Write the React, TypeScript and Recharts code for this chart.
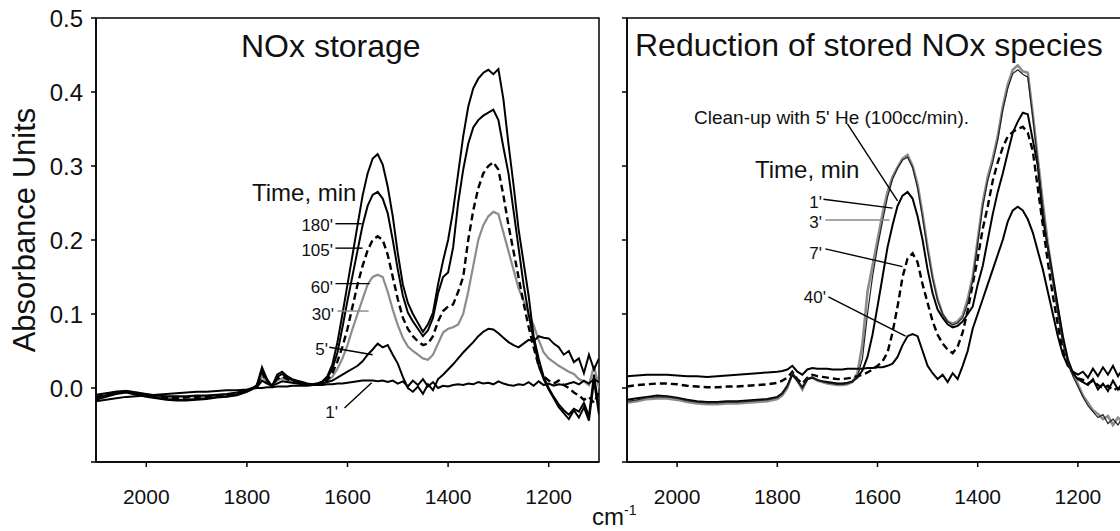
import React from 'react';
import { LineChart, Line, XAxis, YAxis, ReferenceArea, ReferenceLine } from 'recharts';

const FONT = '"Liberation Sans", Arial, sans-serif';

// wavenumber grid, cm-1 (coarse over the flat part, finer where the bands are)
const wavenumbers = [
  2100, 2080, 2060, 2040, 2020, 2000, 1980, 1960, 1940, 1920, 1900, 1880, 1860, 1840, 1820, 1800,
  1790, 1780, 1770, 1760, 1750, 1740, 1730, 1720, 1710, 1700,
  1690, 1680, 1670, 1660, 1650, 1640, 1630, 1620, 1610, 1600,
  1590, 1580, 1570, 1560, 1550, 1540, 1530, 1520, 1510, 1500,
  1490, 1480, 1470, 1460, 1450, 1440, 1430, 1420, 1410, 1400,
  1390, 1380, 1370, 1360, 1350, 1340, 1330, 1320, 1310, 1300,
  1290, 1280, 1270, 1260, 1250, 1240, 1230, 1220, 1210, 1200,
  1190, 1180, 1170, 1160, 1150, 1140, 1130, 1120, 1110, 1100,
];

// NOx storage, absorbance after t minutes
const stor180 = [
  -0.016, -0.012, -0.008, -0.006, -0.009, -0.012, -0.014, -0.016, -0.017, -0.017, -0.016, -0.015, -0.013, -0.012, -0.01, -0.005,
  -0.002, 0.004, 0.028, 0.012, 0.002, 0.018, 0.022, 0.016, 0.012, 0.01,
  0.008, 0.006, 0.005, 0.006, 0.009, 0.016, 0.032, 0.062, 0.1, 0.14,
  0.18, 0.22, 0.26, 0.29, 0.31, 0.316, 0.302, 0.272, 0.232, 0.182,
  0.14, 0.115, 0.1, 0.088, 0.076, 0.086, 0.102, 0.14, 0.172, 0.2,
  0.24, 0.29, 0.34, 0.38, 0.405, 0.418, 0.426, 0.43, 0.424, 0.431,
  0.39, 0.33, 0.275, 0.215, 0.17, 0.125, 0.07, 0.04, 0.015, 0.0,
  -0.012, -0.022, -0.03, -0.036, -0.028, -0.032, -0.02, -0.038, 0.018, -0.03,
];
const stor105 = [
  -0.014, -0.01, -0.007, -0.005, -0.008, -0.011, -0.013, -0.015, -0.016, -0.016, -0.015, -0.014, -0.012, -0.011, -0.009, -0.004,
  -0.001, 0.004, 0.024, 0.01, 0.003, 0.015, 0.019, 0.014, 0.011, 0.009,
  0.007, 0.005, 0.005, 0.006, 0.008, 0.014, 0.026, 0.048, 0.082, 0.118,
  0.152, 0.186, 0.22, 0.246, 0.261, 0.265, 0.256, 0.236, 0.2, 0.16,
  0.125, 0.102, 0.09, 0.08, 0.07, 0.078, 0.095, 0.128, 0.15, 0.156,
  0.19, 0.25, 0.295, 0.33, 0.352, 0.362, 0.368, 0.372, 0.376, 0.362,
  0.325, 0.29, 0.24, 0.19, 0.14, 0.1, 0.065, 0.03, 0.012, -0.002,
  -0.014, -0.026, -0.034, -0.042, -0.03, -0.04, -0.026, -0.044, 0.01, -0.036,
];
const stor60 = [
  -0.012, -0.009, -0.006, -0.005, -0.007, -0.01, -0.012, -0.013, -0.014, -0.013, -0.012, -0.012, -0.011, -0.01, -0.008, -0.004,
  -0.001, 0.003, 0.02, 0.009, 0.003, 0.012, 0.016, 0.012, 0.01, 0.008,
  0.006, 0.005, 0.004, 0.005, 0.007, 0.011, 0.02, 0.036, 0.056, 0.08,
  0.11, 0.14, 0.165, 0.186, 0.2, 0.205, 0.2, 0.18, 0.15, 0.12,
  0.095, 0.08, 0.07, 0.063, 0.058, 0.06, 0.07, 0.09, 0.104, 0.11,
  0.113, 0.13, 0.15, 0.2, 0.24, 0.27, 0.29, 0.3, 0.305, 0.295,
  0.26, 0.22, 0.185, 0.15, 0.115, 0.083, 0.055, 0.03, 0.016, 0.01,
  0.006, 0.01, 0.004, 0.0, -0.006, -0.01, -0.016, -0.012, -0.02, -0.006,
];
const stor30 = [
  -0.011, -0.008, -0.005, -0.004, -0.006, -0.009, -0.011, -0.012, -0.012, -0.012, -0.011, -0.011, -0.01, -0.009, -0.007, -0.003,
  0.0, 0.002, 0.016, 0.008, 0.003, 0.01, 0.013, 0.011, 0.009, 0.007,
  0.006, 0.004, 0.004, 0.005, 0.006, 0.009, 0.015, 0.026, 0.04, 0.058,
  0.08, 0.1, 0.12, 0.14, 0.15, 0.153, 0.15, 0.13, 0.106, 0.085,
  0.068, 0.056, 0.05, 0.045, 0.04, 0.038, 0.045, 0.06, 0.075, 0.08,
  0.082, 0.086, 0.1, 0.13, 0.165, 0.2, 0.22, 0.232, 0.238, 0.235,
  0.21, 0.185, 0.16, 0.135, 0.118, 0.1, 0.085, 0.065, 0.048, 0.04,
  0.035, 0.03, 0.026, 0.022, 0.019, 0.012, 0.009, 0.004, 0.03, 0.0,
];
const stor5 = [
  -0.009, -0.007, -0.005, -0.004, -0.006, -0.008, -0.01, -0.011, -0.011, -0.011, -0.01, -0.01, -0.009, -0.008, -0.006, -0.003,
  0.0, 0.001, 0.01, 0.006, 0.003, 0.006, 0.009, 0.008, 0.007, 0.006,
  0.005, 0.004, 0.004, 0.005, 0.006, 0.008, 0.01, 0.014, 0.018, 0.022,
  0.026, 0.03, 0.036, 0.045, 0.052, 0.06, 0.055, 0.058, 0.045, 0.033,
  0.015, 0.0, -0.005, 0.002, -0.008, 0.005, -0.003, 0.012, 0.018, 0.025,
  0.032, 0.04, 0.048, 0.055, 0.062, 0.07, 0.076, 0.08, 0.079, 0.074,
  0.068, 0.062, 0.058, 0.055, 0.06, 0.065, 0.063, 0.07, 0.068, 0.067,
  0.06, 0.055, 0.045, 0.05, 0.035, 0.04, 0.02, 0.045, 0.025, 0.04,
];
const stor1 = [
  -0.018, -0.016, -0.014, -0.012, -0.011, -0.01, -0.009, -0.008, -0.007, -0.006, -0.005, -0.005, -0.004, -0.003, -0.003, -0.002,
  -0.001, 0.0, 0.0, 0.001, 0.001, 0.002, 0.002, 0.002, 0.003, 0.003,
  0.003, 0.003, 0.004, 0.004, 0.004, 0.005, 0.005, 0.006, 0.006, 0.007,
  0.008, 0.009, 0.01, 0.01, 0.01, 0.009, 0.01, 0.008, 0.01, 0.006,
  0.009, 0.002, 0.01, 0.004, 0.012, 0.002, 0.008, 0.0, 0.003, 0.002,
  0.004, 0.005, 0.004, 0.006, 0.005, 0.008, 0.006, 0.007, 0.005, 0.009,
  0.006, 0.004, 0.003, 0.005, 0.004, 0.008, 0.003, 0.009, 0.004, 0.006,
  0.003, 0.005, 0.004, 0.006, 0.008, 0.005, 0.01, 0.006, 0.012, 0.008,
];

// reduction of stored NOx species
const redClean = [
  -0.02, -0.018, -0.015, -0.014, -0.014, -0.016, -0.019, -0.021, -0.022, -0.022, -0.021, -0.021, -0.02, -0.019, -0.018, -0.015,
  -0.01, 0.0, 0.02, 0.01, -0.002, 0.012, 0.014, 0.01, 0.008, 0.006,
  0.005, 0.004, 0.004, 0.005, 0.008, 0.02, 0.06, 0.13, 0.165, 0.2,
  0.235, 0.265, 0.285, 0.298, 0.31, 0.315, 0.3, 0.275, 0.235, 0.19,
  0.15, 0.12, 0.1, 0.09, 0.087, 0.09, 0.098, 0.12, 0.15, 0.2,
  0.25, 0.285, 0.31, 0.34, 0.38, 0.41, 0.43, 0.436, 0.428, 0.426,
  0.37, 0.31, 0.25, 0.195, 0.15, 0.105, 0.065, 0.038, 0.02, 0.005,
  -0.01, -0.02, -0.03, -0.035, -0.042, -0.038, -0.05, -0.04, -0.046, -0.035,
];
const red1 = [
  -0.018, -0.016, -0.013, -0.012, -0.012, -0.014, -0.017, -0.019, -0.02, -0.02, -0.019, -0.019, -0.018, -0.017, -0.016, -0.013,
  -0.008, 0.002, 0.021, 0.011, 0.0, 0.013, 0.015, 0.011, 0.009, 0.007,
  0.006, 0.005, 0.005, 0.006, 0.008, 0.015, 0.04, 0.1, 0.15, 0.19,
  0.225, 0.258, 0.282, 0.297, 0.308, 0.312, 0.298, 0.27, 0.23, 0.186,
  0.148, 0.118, 0.1, 0.09, 0.085, 0.088, 0.095, 0.114, 0.145, 0.195,
  0.245, 0.28, 0.305, 0.335, 0.375, 0.405, 0.425, 0.43, 0.424, 0.42,
  0.365, 0.305, 0.245, 0.19, 0.145, 0.1, 0.06, 0.034, 0.016, 0.002,
  -0.012, -0.024, -0.032, -0.04, -0.036, -0.048, -0.042, -0.05, -0.038, -0.045,
];
const red3 = [
  -0.016, -0.014, -0.012, -0.01, -0.011, -0.013, -0.016, -0.018, -0.019, -0.019, -0.018, -0.018, -0.017, -0.016, -0.015, -0.012,
  -0.007, 0.003, 0.018, 0.01, 0.001, 0.012, 0.014, 0.011, 0.009, 0.008,
  0.007, 0.006, 0.006, 0.007, 0.009, 0.014, 0.024, 0.042, 0.072, 0.11,
  0.15, 0.19, 0.22, 0.246, 0.26, 0.265, 0.256, 0.232, 0.2, 0.16,
  0.128, 0.106, 0.095, 0.086, 0.082, 0.084, 0.09, 0.1, 0.11, 0.14,
  0.165, 0.2, 0.235, 0.265, 0.29, 0.318, 0.345, 0.36, 0.372, 0.37,
  0.335, 0.3, 0.23, 0.19, 0.15, 0.11, 0.07, 0.038, 0.02, 0.012,
  0.008, 0.004, 0.012, -0.002, 0.006, -0.004, 0.01, -0.002, 0.008, 0.0,
];
const red7 = [
  0.002, 0.004, 0.005, 0.006, 0.006, 0.005, 0.003, 0.002, 0.001, 0.001, 0.002, 0.002, 0.003, 0.004, 0.005, 0.007,
  0.01, 0.014, 0.022, 0.012, 0.006, 0.014, 0.018, 0.016, 0.015, 0.014,
  0.013, 0.012, 0.012, 0.013, 0.014, 0.016, 0.018, 0.021, 0.025, 0.03,
  0.036, 0.048, 0.075, 0.11, 0.15, 0.175, 0.182, 0.17, 0.14, 0.115,
  0.09, 0.072, 0.06, 0.052, 0.047, 0.056, 0.075, 0.105, 0.14, 0.175,
  0.215, 0.245, 0.28, 0.305, 0.325, 0.34, 0.346, 0.35, 0.353, 0.345,
  0.32, 0.27, 0.22, 0.17, 0.125, 0.085, 0.05, 0.03, 0.02, 0.013,
  0.011, 0.006, 0.01, 0.004, 0.0, 0.003, -0.003, 0.0, -0.004, 0.002,
];
const red40 = [
  0.016, 0.017, 0.018, 0.018, 0.018, 0.017, 0.016, 0.016, 0.015, 0.016, 0.017, 0.018, 0.019, 0.02, 0.021, 0.022,
  0.023, 0.025, 0.03, 0.022, 0.018, 0.025, 0.027, 0.026, 0.026, 0.026,
  0.025, 0.025, 0.025, 0.026, 0.026, 0.026, 0.026, 0.027, 0.027, 0.028,
  0.028, 0.03, 0.033, 0.042, 0.058, 0.07, 0.073, 0.07, 0.05, 0.03,
  0.02, 0.012, 0.018, 0.008, 0.02, 0.012, 0.03, 0.05, 0.08, 0.1,
  0.12, 0.14, 0.16, 0.18, 0.2, 0.225, 0.24, 0.245, 0.24, 0.228,
  0.21, 0.185, 0.16, 0.13, 0.1, 0.07, 0.045, 0.03, 0.022, 0.018,
  0.022, 0.014, 0.026, 0.016, 0.028, 0.018, 0.03, 0.016, 0.026, 0.012,
];

const xTicks = [2000, 1800, 1600, 1400, 1200];
const yTicks = [-0.1, 0, 0.1, 0.2, 0.3, 0.4, 0.5];

// leader lines from the time labels to their spectra, in data units
const storageLeaders = [
  { x1: 1624, y1: 0.222, x2: 1572, y2: 0.222, color: '#000' },
  { x1: 1624, y1: 0.189, x2: 1570, y2: 0.189, color: '#000' },
  { x1: 1624, y1: 0.141, x2: 1556, y2: 0.141, color: '#000' },
  { x1: 1620, y1: 0.104, x2: 1558, y2: 0.104, color: '#888' },
  { x1: 1636, y1: 0.055, x2: 1550, y2: 0.045, color: '#000' },
  { x1: 1606, y1: -0.027, x2: 1552, y2: 0.007, color: '#000' },
];
const reductionLeaders = [
  { x1: 1660, y1: 0.357, x2: 1560, y2: 0.253, color: '#000' },
  { x1: 1708, y1: 0.255, x2: 1570, y2: 0.243, color: '#000' },
  { x1: 1704, y1: 0.227, x2: 1576, y2: 0.227, color: '#888' },
  { x1: 1704, y1: 0.188, x2: 1550, y2: 0.164, color: '#000' },
  { x1: 1698, y1: 0.123, x2: 1544, y2: 0.07, color: '#000' },
];

const storageRows = wavenumbers.map((wn, i) => ({
  wn, t180: stor180[i], t105: stor105[i], t60: stor60[i], t30: stor30[i], t5: stor5[i], t1: stor1[i],
}));
const reductionRows = wavenumbers.map((wn, i) => ({
  wn, clean: redClean[i], t1: red1[i], t3: red3[i], t7: red7[i], t40: red40[i],
}));

const GRAY = '#8c8c8c';
const axisStroke = { stroke: '#000', strokeWidth: 1.5 };

const Panel = ({ rows, width, labels, children, leaders }: any) => (
  <LineChart
    width={width}
    height={531}
    data={rows}
    margin={{ top: 18, right: width === 610 ? 11 : 32, bottom: 0, left: 0 }}
  >
    <XAxis
      dataKey="wn"
      type="number"
      domain={[1100, 2100]}
      reversed
      allowDataOverflow
      ticks={xTicks}
      interval={0}
      height={69}
      tickSize={5}
      tickMargin={22}
      axisLine={axisStroke}
      tickLine={axisStroke}
      tick={{ fill: '#111', fontSize: 21, fontFamily: FONT }}
    />
    <YAxis
      type="number"
      domain={[-0.1, 0.5]}
      allowDataOverflow
      ticks={yTicks}
      interval={0}
      width={labels ? 96 : 67}
      tickSize={5}
      tickMargin={8}
      axisLine={axisStroke}
      tickLine={axisStroke}
      tickFormatter={(v: number) => (labels && v > -0.05 ? v.toFixed(1) : '')}
      tick={{ fill: '#111', fontSize: 24, fontFamily: FONT }}
    />
    <ReferenceArea x1={2100} x2={1100} y1={-0.1} y2={0.5} fill="none" stroke="#000" strokeWidth={1.5} ifOverflow="visible" />
    {children}
    {leaders.map((l: any, i: number) => (
      <ReferenceLine
        key={i}
        segment={[{ x: l.x1, y: l.y1 }, { x: l.x2, y: l.y2 }]}
        stroke={l.color}
        strokeWidth={1.4}
        ifOverflow="visible"
      />
    ))}
  </LineChart>
);

const line = (key: string, color: string, dashed = false, w = 2) => (
  <Line
    key={key}
    dataKey={key}
    type="linear"
    dot={false}
    stroke={color}
    strokeWidth={dashed ? 2.4 : w}
    strokeDasharray={dashed ? '7 4' : undefined}
    isAnimationActive={false}
  />
);

const App = () => {
  const txt = { fontFamily: FONT, fill: '#111' };
  return (
    <div style={{ position: 'absolute', left: 0, top: 0, width: 1120, height: 531, overflow: 'hidden', background: '#fff' }}>
      <div style={{ position: 'absolute', left: 0, top: 0 }}>
        <Panel rows={storageRows} width={610} labels leaders={storageLeaders}>
          {line('t30', GRAY, false, 2.2)}
          {line('t1', '#000')}
          {line('t5', '#000')}
          {line('t60', '#000', true)}
          {line('t105', '#000')}
          {line('t180', '#000')}
        </Panel>
      </div>
      <div style={{ position: 'absolute', left: 560, top: 0 }}>
        <Panel rows={reductionRows} width={600} labels={false} leaders={reductionLeaders}>
          {line('clean', GRAY, false, 2.6)}
          {line('t40', '#000')}
          {line('t7', '#000', true)}
          {line('t3', '#000')}
          {line('t1', '#222', false, 1.2)}
        </Panel>
      </div>
      <svg width={1120} height={531} style={{ position: 'absolute', left: 0, top: 0, pointerEvents: 'none' }}>
        <text {...txt} x={35} y={230} fontSize={31} textAnchor="middle" transform="rotate(-90 35 230)">
          Absorbance Units
        </text>
        <text {...txt} x={592} y={525} fontSize={24}>
          cm<tspan fontSize={14} dy={-10}>-1</tspan>
        </text>

        <text {...txt} x={241} y={57} fontSize={32}>NOx storage</text>
        <text {...txt} x={252} y={201} fontSize={24}>Time, min</text>
        <text {...txt} x={333} y={231} fontSize={17} textAnchor="end">180'</text>
        <text {...txt} x={333} y={256} fontSize={17} textAnchor="end">105'</text>
        <text {...txt} x={333} y={293} fontSize={17} textAnchor="end">60'</text>
        <text {...txt} x={334} y={320} fontSize={17} textAnchor="end">30'</text>
        <text {...txt} x={328} y={355} fontSize={17} textAnchor="end">5'</text>
        <text {...txt} x={338} y={418} fontSize={17} textAnchor="end">1'</text>

        <text {...txt} x={635} y={56} fontSize={32}>Reduction of stored NOx species</text>
        <text {...txt} x={694} y={124} fontSize={19}>Clean-up with 5' He (100cc/min).</text>
        <text {...txt} x={755} y={178} fontSize={24}>Time, min</text>
        <text {...txt} x={822} y={208} fontSize={17} textAnchor="end">1'</text>
        <text {...txt} x={822} y={228} fontSize={17} textAnchor="end">3'</text>
        <text {...txt} x={822} y={259} fontSize={17} textAnchor="end">7'</text>
        <text {...txt} x={826} y={303} fontSize={17} textAnchor="end">40'</text>
      </svg>
    </div>
  );
};

export default App;
